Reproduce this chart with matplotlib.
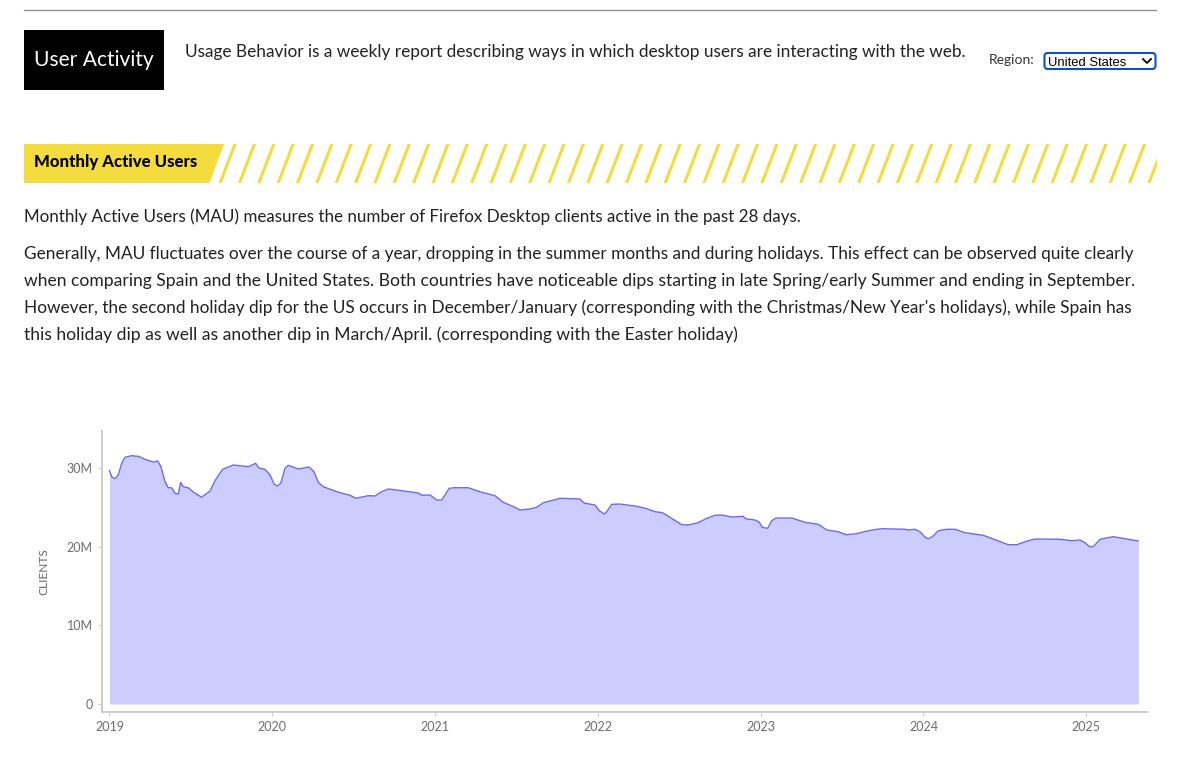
#libraries
import matplotlib
matplotlib.use("Agg")
import matplotlib.pyplot as plt
from matplotlib.patches import Polygon, Rectangle, FancyBboxPatch

# data: time as decimal years, clients in millions
years = [2019.000, 2019.014, 2019.034, 2019.054, 2019.075, 2019.095, 2019.136, 2019.177, 2019.218, 2019.269,
         2019.296, 2019.316, 2019.341, 2019.361, 2019.382, 2019.402, 2019.423, 2019.437, 2019.453, 2019.484,
         2019.515, 2019.566, 2019.597, 2019.617, 2019.648, 2019.695, 2019.761, 2019.853, 2019.898, 2019.918,
         2019.955, 2019.986, 2020.012, 2020.031, 2020.052, 2020.078, 2020.098, 2020.160, 2020.226, 2020.256,
         2020.283, 2020.313, 2020.385, 2020.416, 2020.477, 2020.514, 2020.590, 2020.631, 2020.672, 2020.713,
         2020.764, 2020.897, 2020.918, 2020.969, 2021.010, 2021.041, 2021.061, 2021.087, 2021.122, 2021.204,
         2021.276, 2021.368, 2021.419, 2021.491, 2021.522, 2021.583, 2021.624, 2021.665, 2021.747, 2021.767,
         2021.890, 2021.915, 2021.982, 2022.009, 2022.040, 2022.054, 2022.085, 2022.136, 2022.239, 2022.300,
         2022.351, 2022.396, 2022.443, 2022.515, 2022.556, 2022.617, 2022.669, 2022.720, 2022.761, 2022.822,
         2022.893, 2022.908, 2022.965, 2022.992, 2023.010, 2023.043, 2023.068, 2023.094, 2023.191, 2023.272,
         2023.354, 2023.406, 2023.477, 2023.524, 2023.590, 2023.652, 2023.729, 2023.753, 2023.887, 2023.907,
         2023.948, 2023.979, 2024.010, 2024.030, 2024.055, 2024.091, 2024.143, 2024.194, 2024.255, 2024.368,
         2024.460, 2024.521, 2024.573, 2024.644, 2024.685, 2024.839, 2024.911, 2024.962, 2024.993, 2025.019,
         2025.043, 2025.085, 2025.166, 2025.249, 2025.320]
clients_m = [29.64, 28.88, 28.63, 29.10, 30.58, 31.35, 31.55, 31.47, 31.09, 30.75,
             30.88, 30.15, 28.25, 27.48, 27.48, 26.77, 26.68, 28.17, 27.61, 27.48,
             26.94, 26.26, 26.77, 27.03, 28.37, 29.82, 30.37, 30.15, 30.58, 29.99,
             29.82, 29.10, 27.92, 27.70, 28.04, 29.95, 30.33, 29.86, 30.11, 29.52,
             28.17, 27.61, 27.06, 26.85, 26.52, 26.14, 26.47, 26.43, 26.97, 27.32,
             27.19, 26.81, 26.52, 26.56, 25.92, 25.92, 26.56, 27.41, 27.48, 27.48,
             26.97, 26.47, 25.63, 24.99, 24.65, 24.78, 24.99, 25.58, 26.01, 26.14,
             26.05, 25.54, 25.28, 24.56, 24.14, 24.43, 25.37, 25.41, 25.12, 24.82,
             24.43, 24.31, 23.72, 22.78, 22.74, 23.04, 23.60, 23.98, 24.01, 23.76,
             23.85, 23.54, 23.38, 23.09, 22.45, 22.32, 23.29, 23.63, 23.63, 23.09,
             22.83, 22.11, 21.89, 21.51, 21.64, 21.98, 22.24, 22.27, 22.20, 22.11,
             22.20, 21.89, 21.18, 21.00, 21.26, 22.02, 22.20, 22.20, 21.77, 21.43,
             20.71, 20.24, 20.24, 20.75, 20.96, 20.93, 20.75, 20.84, 20.49, 19.99,
             19.99, 20.93, 21.26, 20.96, 20.71]

x_ticks = [2019, 2020, 2021, 2022, 2023, 2024, 2025]
y_ticks = [0, 10, 20, 30]
y_labels = ["0", "10M", "20M", "30M"]

intro = "Usage Behavior is a weekly report describing ways in which desktop users are interacting with the web."
para_1 = "Monthly Active Users (MAU) measures the number of Firefox Desktop clients active in the past 28 days."
para_2 = ["Generally, MAU fluctuates over the course of a year, dropping in the summer months and during holidays. This effect can be observed quite clearly",
          "when comparing Spain and the United States. Both countries have noticeable dips starting in late Spring/early Summer and ending in September.",
          "However, the second holiday dip for the US occurs in December/January (corresponding with the Christmas/New Year's holidays), while Spain has",
          "this holiday dip as well as another dip in March/April. (corresponding with the Easter holiday)"]
para_2_sizes = [12.46, 12.6, 12.39, 12.58]  # Lato is not the page font, so each line is fitted to its width

W, H = 1200, 770
YELLOW = "#f5dc3e"
plt.rcParams["font.family"] = ["Lato", "DejaVu Sans"]
fig = plt.figure(figsize=(W / 100, H / 100), dpi=100)

# page furniture, drawn in pixel coordinates
page = fig.add_axes([0, 0, 1, 1])
page.set_xlim(0, W)
page.set_ylim(H, 0)
page.axis("off")

page.plot([24, 1156], [10, 10], color="#888888", lw=0.9)
page.add_patch(Rectangle((24, 30), 139.5, 60, color="black", lw=0))
page.text(94, 60, "User Activity", color="white", fontsize=15.1, ha="center", va="center")
page.text(185, 52, intro, color="#222222", fontsize=12.42, va="center")
page.text(989, 60, "Region:", color="#333333", fontsize=10, va="center")

# the select box
page.add_patch(FancyBboxPatch((1044.5, 53), 111, 16, boxstyle="round,pad=0,rounding_size=3",
                              fc="white", ec="#0b50c8", lw=1.5))
page.text(1048, 62.5, "United States", color="black", fontsize=9.4, family="Liberation Sans", va="center")
page.plot([1143, 1147, 1151], [59, 63, 59], color="black", lw=1.3)

# banner and its stripes
page.add_patch(Polygon([(24, 144), (224, 144), (209.5, 183), (24, 183)], color=YELLOW, lw=0))
page.text(34, 162, "Monthly Active Users", color="black", fontsize=12.1, fontweight="black", va="center")
clip = Rectangle((0, 0), 1157, H, transform=page.transData)
for k in range(49):
    x0 = 218.5 + 19.35 * k
    stripe = Polygon([(x0, 183), (x0 + 15, 144), (x0 + 18.3, 144), (x0 + 3.3, 183)], color=YELLOW, lw=0)
    page.add_patch(stripe)
    stripe.set_clip_path(clip)

page.text(24, 217, para_1, color="#222222", fontsize=12.27, va="center")
for i, line in enumerate(para_2):
    page.text(24, 254 + 27 * i, line, color="#222222", fontsize=para_2_sizes[i], va="center")

# chart axes: left/bottom spines sit 7-8px away from the data
ax = fig.add_axes([102 / W, 1 - 712 / H, (1147 - 102) / W, (712 - 431) / H])
ax.patch.set_alpha(0)
ax.fill_between(years, clients_m, 0, color="#ccccff", lw=0)
ax.plot(years, clients_m, color="#6a6aee", lw=1.0, solid_joinstyle="round")
ax.set_xlim(2018.954, 2025.373)
ax.set_ylim(-1.016, 34.69)
ax.spines["top"].set_visible(False)
ax.spines["right"].set_visible(False)
ax.spines["left"].set_color("#cccccc")
ax.spines["bottom"].set_color("#cccccc")
ax.spines["left"].set_linewidth(1.4)
ax.spines["bottom"].set_linewidth(1.4)
ax.set_xticks(x_ticks)
ax.set_xticklabels([str(y) for y in x_ticks])
ax.set_yticks(y_ticks)
ax.set_yticklabels(y_labels)
ax.tick_params(length=3.2, width=0.8, color="#cccccc", labelcolor="#6e6e6e", labelsize=9, pad=3.5)
page.text(44, 572, "CLIENTS", color="#666666", fontsize=8.6, rotation=90, ha="center", va="center")

fig.savefig("out.png", dpi=100)
